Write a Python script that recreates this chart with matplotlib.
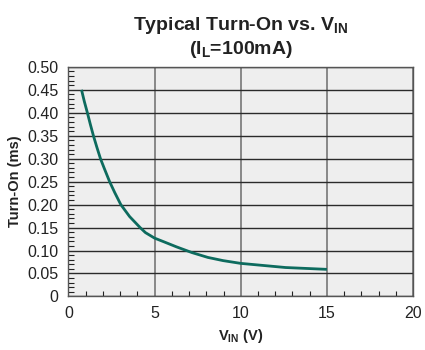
import matplotlib
matplotlib.use('Agg')
from matplotlib import pyplot as plt
from matplotlib.ticker import MultipleLocator

plt.rcParams['font.family'] = ['Liberation Sans', 'DejaVu Sans']
plt.rcParams['mathtext.fontset'] = 'custom'
plt.rcParams['mathtext.rm'] = 'Liberation Sans:bold'
plt.rcParams['mathtext.bf'] = 'Liberation Sans:bold'

# values
v_in = [0.76, 0.92, 1.10, 1.27, 1.45, 1.65, 1.86, 2.10, 2.39, 2.69, 3.04, 3.55,
        4.16, 4.47, 5.0, 5.54, 6.27, 7.17, 8.09, 8.98, 10.0, 12.6, 15.0]
turn_on = [0.45, 0.425, 0.40, 0.375, 0.35, 0.325, 0.30, 0.277, 0.25, 0.226, 0.20, 0.174,
           0.15, 0.139, 0.127, 0.119, 0.108, 0.0955, 0.085, 0.078, 0.072, 0.063, 0.059]

x_ticks = [0, 5, 10, 15, 20]
y_ticks = [0, 0.05, 0.10, 0.15, 0.20, 0.25, 0.30, 0.35, 0.40, 0.45, 0.50]
y_tick_labels = ['0'] + ['%.2f' % v for v in y_ticks[1:]]

fig = plt.figure(figsize=(4.25, 3.5), dpi=100)
ax = fig.add_axes([0.161, 0.153, 0.811, 0.656])
ax.set_facecolor('#eeeeee')

ax.set_xlim(0, 20)
ax.set_ylim(0, 0.5)
ax.set_xticks(x_ticks)
ax.set_yticks(y_ticks)
ax.set_yticklabels(y_tick_labels)
ax.xaxis.set_minor_locator(MultipleLocator(1))
ax.yaxis.set_minor_locator(MultipleLocator(0.01))
ax.tick_params(which='both', direction='in', labelsize=11.5, colors='#222222')
ax.tick_params(which='major', length=0, pad=7)
ax.tick_params(which='minor', length=3.5, width=0.8)
ax.tick_params(axis='y', which='minor', length=4.5)

ax.grid(axis='y', which='major', color='#2a2a2a', linewidth=1.0)
ax.grid(axis='x', which='major', color='#777777', linewidth=1.2)
ax.set_axisbelow(True)
for s in ax.spines.values():
    s.set_color('#555555')
    s.set_linewidth(1.0)

ax.plot(v_in, turn_on, color='#0d6b5e', linewidth=2.0, solid_capstyle='butt')

ax.set_title('Typical Turn-On vs. V$_{\\mathrm{IN}}$\n(I$_{\\mathrm{L}}$=100mA)',
             fontsize=14, fontweight='bold', color='#222222', pad=9, linespacing=1.25)
ax.set_xlabel('V$_{\\mathrm{IN}}$ (V)', fontsize=10.5, fontweight='bold', color='#222222', labelpad=4)
ax.set_ylabel('Turn-On (ms)', fontsize=10.5, fontweight='bold', color='#222222', labelpad=4)

plt.savefig('out.png', dpi=100)
